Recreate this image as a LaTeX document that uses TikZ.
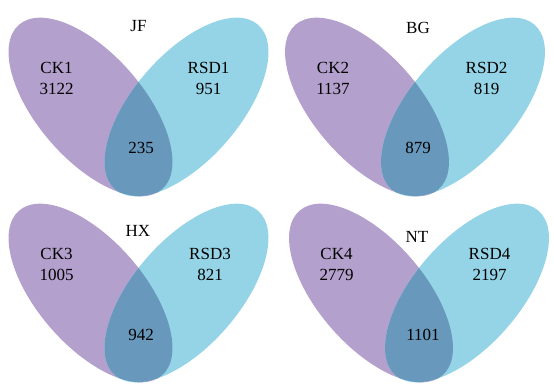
\documentclass[tikz,border=0pt]{standalone}
\usepackage{fontspec}
\setmainfont{Liberation Serif}
\usepackage{tikz}
\usepackage{xcolor}
\definecolor{ckpurple}{RGB}{180,160,205}
\definecolor{rsdcyan}{RGB}{148,212,230}
\definecolor{sharedblue}{RGB}{104,152,188}

\begin{document}
\begin{tikzpicture}[x=1pt,y=1pt,
  ckshape/.style={shift={(-48,0)},rotate=-49},
  rsdshape/.style={shift={(48,0)},rotate=49},
  lab/.style={font=\fontsize{17}{21}\selectfont,align=center,inner sep=0pt}]
  \useasboundingbox (0,0) rectangle (554,386);
  % JF
  \begin{scope}[shift={(138.5,279)}]
    \fill[ckpurple,ckshape] (0,0) ellipse [x radius=109,y radius=53];
    \fill[rsdcyan,rsdshape] (0,0) ellipse [x radius=109,y radius=53];
    \begin{scope}
      \clip[ckshape] (0,0) ellipse [x radius=109,y radius=53];
      \fill[sharedblue,rsdshape] (0,0) ellipse [x radius=109,y radius=53];
    \end{scope}
  \end{scope}
  \node[lab] (jf) at (138.5,360) {JF};
  \node[lab] (ck1) at (56.5,307.5) {CK1\\3122};
  \node[lab] (rsd1) at (208.5,307.5) {RSD1\\951};
  \node[lab] (jf-both) at (141,238) {235};
  % BG
  \begin{scope}[shift={(415,279)}]
    \fill[ckpurple,ckshape] (0,0) ellipse [x radius=109,y radius=53];
    \fill[rsdcyan,rsdshape] (0,0) ellipse [x radius=109,y radius=53];
    \begin{scope}
      \clip[ckshape] (0,0) ellipse [x radius=109,y radius=53];
      \fill[sharedblue,rsdshape] (0,0) ellipse [x radius=109,y radius=53];
    \end{scope}
  \end{scope}
  \node[lab] (bg) at (418,358.5) {BG};
  \node[lab] (ck2) at (333,307.5) {CK2\\1137};
  \node[lab] (rsd2) at (486.5,307.5) {RSD2\\819};
  \node[lab] (bg-both) at (418,238) {879};
  % HX
  \begin{scope}[shift={(138.5,93)}]
    \fill[ckpurple,ckshape] (0,0) ellipse [x radius=109,y radius=53];
    \fill[rsdcyan,rsdshape] (0,0) ellipse [x radius=109,y radius=53];
    \begin{scope}
      \clip[ckshape] (0,0) ellipse [x radius=109,y radius=53];
      \fill[sharedblue,rsdshape] (0,0) ellipse [x radius=109,y radius=53];
    \end{scope}
  \end{scope}
  \node[lab] (hx) at (138,155) {HX};
  \node[lab] (ck3) at (56.5,121.5) {CK3\\1005};
  \node[lab] (rsd3) at (210,121.5) {RSD3\\821};
  \node[lab] (hx-both) at (141,51) {942};
  % NT
  \begin{scope}[shift={(419,93)}]
    \fill[ckpurple,ckshape] (0,0) ellipse [x radius=109,y radius=53];
    \fill[rsdcyan,rsdshape] (0,0) ellipse [x radius=109,y radius=53];
    \begin{scope}
      \clip[ckshape] (0,0) ellipse [x radius=109,y radius=53];
      \fill[sharedblue,rsdshape] (0,0) ellipse [x radius=109,y radius=53];
    \end{scope}
  \end{scope}
  \node[lab] (nt) at (417,149) {NT};
  \node[lab] (ck4) at (336.5,121.5) {CK4\\2779};
  \node[lab] (rsd4) at (489.5,121.5) {RSD4\\2197};
  \node[lab] (nt-both) at (423,51) {1101};
\end{tikzpicture}
\end{document}
